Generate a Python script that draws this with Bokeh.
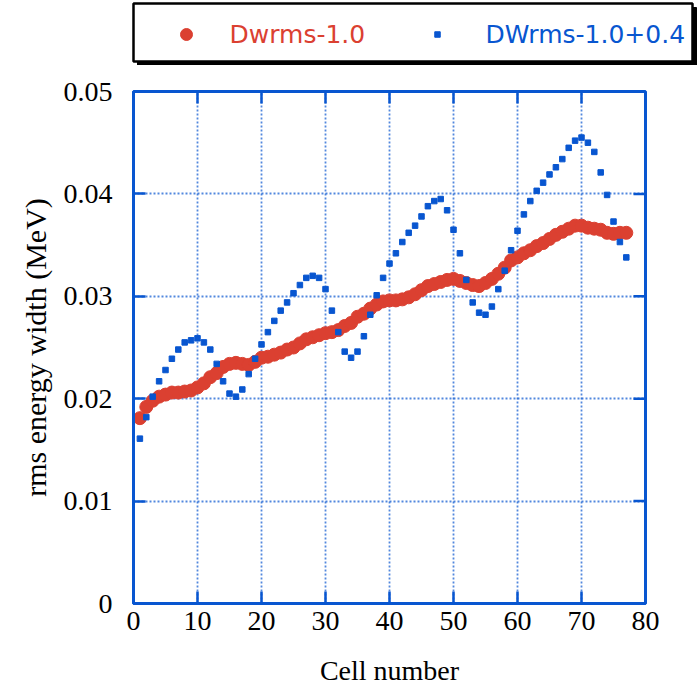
import numpy as np
from bokeh.plotting import figure
from bokeh.models import Range1d, FixedTicker, CustomJSTickFormatter
from bokeh.layouts import column
from bokeh.embed import file_html
from bokeh.resources import INLINE
from bokeh.core.properties import value

# ---------------- data ----------------
cells = list(range(1, 78))

dwrms_10 = [
    0.0181, 0.0192, 0.0198, 0.0202, 0.0204, 0.0206, 0.0206, 0.0207, 0.0208, 0.0211,
    0.0215, 0.0221, 0.0225, 0.0231, 0.0234, 0.0235, 0.0234, 0.0233, 0.0236, 0.0240,
    0.0241, 0.0243, 0.0245, 0.0248, 0.0250, 0.0254, 0.0258, 0.0260, 0.0262, 0.0264,
    0.0265, 0.0267, 0.0271, 0.0274, 0.0280, 0.0283, 0.0288, 0.0292, 0.0295, 0.0296,
    0.0296, 0.0297, 0.0299, 0.0302, 0.0306, 0.0310, 0.0312, 0.0314, 0.0316, 0.0317,
    0.0315, 0.0313, 0.0311, 0.0310, 0.0313, 0.0317, 0.0322, 0.0328, 0.0335, 0.0338,
    0.0342, 0.0345, 0.0349, 0.0352, 0.0356, 0.0360, 0.0363, 0.0366, 0.0369, 0.0369,
    0.0367, 0.0366, 0.0365, 0.0362, 0.0361, 0.0362, 0.0362,
]

dwrms_10_04 = [
    0.0161, 0.0182, 0.0202, 0.0217, 0.0228, 0.0239, 0.0248, 0.0255, 0.0257, 0.0259,
    0.0255, 0.0248, 0.0234, 0.0217, 0.0205, 0.0202, 0.0209, 0.0224, 0.0239, 0.0253,
    0.0265, 0.0276, 0.0286, 0.0294, 0.0303, 0.0311, 0.0318, 0.0320, 0.0318, 0.0307,
    0.0286, 0.0265, 0.0246, 0.0240, 0.0246, 0.0261, 0.0282, 0.0301, 0.0318, 0.0332,
    0.0342, 0.0353, 0.0362, 0.0369, 0.0378, 0.0388, 0.0393, 0.0395, 0.0384, 0.0365,
    0.0342, 0.0316, 0.0294, 0.0284, 0.0282, 0.0290, 0.0307, 0.0325, 0.0345, 0.0364,
    0.0380, 0.0393, 0.0403, 0.0411, 0.0419, 0.0426, 0.0434, 0.0445, 0.0452, 0.0455,
    0.0450, 0.0441, 0.0421, 0.0399, 0.0373, 0.0353, 0.0338,
]

x_ticks = [0, 10, 20, 30, 40, 50, 60, 70, 80]
y_ticks = [0, 0.01, 0.02, 0.03, 0.04, 0.05]
series_labels = ["Dwrms-1.0", "DWrms-1.0+0.4"]
x_title = "Cell number"
y_title = "rms energy width (MeV)"

RED = "#db4031"
BLUE = "#0856d0"
SERIF = "Liberation Serif"
SANS = "DejaVu Sans"

X0, X1, Y0, Y1 = 0, 80, 0, 0.05
BL, BR, BT, BB = 133, 55, 26, 90          # borders of main plot (px)
W, H_MAIN, H_LEG = 700, 628, 65
FW = W - BL - BR                          # frame width  (px)
FH = H_MAIN - BT - BB                     # frame height (px)
TICK = 12                                 # inward tick length (px)

# ---------------- main plot ----------------
p = figure(width=W, height=H_MAIN, x_range=Range1d(X0, X1), y_range=Range1d(Y0, Y1),
           output_backend="svg", toolbar_location=None,
           min_border_left=BL, min_border_right=BR, min_border_top=BT, min_border_bottom=BB)
p.background_fill_color = "white"
p.border_fill_color = "white"
p.outline_line_color = BLUE
p.outline_line_width = 3

p.xaxis.ticker = FixedTicker(ticks=x_ticks)
p.yaxis.ticker = FixedTicker(ticks=y_ticks)
p.yaxis.formatter = CustomJSTickFormatter(code="return tick == 0 ? '0' : tick.toFixed(2);")

for ax in (p.xaxis, p.yaxis):
    ax.axis_line_color = BLUE
    ax.axis_line_width = 3
    ax.major_tick_line_color = BLUE
    ax.major_tick_line_width = 2.5
    ax.major_tick_in = TICK
    ax.major_tick_out = 0
    ax.minor_tick_line_color = None
    ax.major_label_text_font = SERIF
    ax.major_label_text_font_size = "28px"
    ax.major_label_text_color = "black"
    ax.axis_label_text_font = SERIF
    ax.axis_label_text_font_style = "normal"
    ax.axis_label_text_color = "black"

p.xaxis.axis_label = x_title
p.xaxis.axis_label_text_font_size = "28px"
p.xaxis.major_label_standoff = 8
p.xaxis.axis_label_standoff = 22
p.yaxis.axis_label = y_title
p.yaxis.axis_label_text_font_size = "30px"
p.yaxis.major_label_standoff = 21
p.yaxis.axis_label_standoff = 9

p.grid.grid_line_color = BLUE
p.grid.grid_line_dash = "2 2"
p.grid.grid_line_width = 1.8
p.grid.grid_line_alpha = 0.7
p.xgrid.ticker = FixedTicker(ticks=x_ticks)
p.ygrid.ticker = FixedTicker(ticks=y_ticks)

# inward ticks on top and right edges of the frame
dy = TICK * (Y1 - Y0) / FH
dx = TICK * (X1 - X0) / FW
p.segment(x0=x_ticks, y0=[Y1] * len(x_ticks), x1=x_ticks, y1=[Y1 - dy] * len(x_ticks),
          line_color=BLUE, line_width=2.5)
p.segment(x0=[X1] * len(y_ticks), y0=y_ticks, x1=[X1 - dx] * len(y_ticks), y1=y_ticks,
          line_color=BLUE, line_width=2.5)

p.scatter(cells, dwrms_10, marker="circle", size=13, fill_color=RED, line_color=RED)
p.scatter(cells, dwrms_10_04, marker="square", size=5.5, fill_color=BLUE, line_color=BLUE)

# ---------------- legend strip (pixel coordinates: x = page px, y = px from strip bottom) ----------------
lg = figure(width=W, height=H_LEG, x_range=Range1d(BL, W - BR), y_range=Range1d(0, H_LEG),
            output_backend="svg", toolbar_location=None,
            min_border_left=BL, min_border_right=BR, min_border_top=0, min_border_bottom=0,
            x_axis_location=None, y_axis_location=None)
lg.grid.visible = False
lg.outline_line_color = None
lg.background_fill_color = "white"
lg.border_fill_color = "white"

rs = []
rs.append(lg.quad(left=[137], right=[696], top=[58], bottom=[0], fill_color="black", line_color="black"))
rs.append(lg.quad(left=[133], right=[692], top=[62], bottom=[4], fill_color="white",
                  line_color="black", line_width=2.5))
rs.append(lg.scatter([186], [31], marker="circle", size=12, fill_color=RED, line_color=RED))
rs.append(lg.scatter([437], [31], marker="square", size=5.5, fill_color=BLUE, line_color=BLUE))
rs.append(lg.text([229], [31], text=[series_labels[0]], text_font=value(SANS), text_font_size="25px",
                  text_color=RED, text_baseline="middle", text_align="left"))
rs.append(lg.text([485], [31], text=[series_labels[1]], text_font=value(SANS), text_font_size="25px",
                  text_color=BLUE, text_baseline="middle", text_align="left"))
for r in rs:
    r.level = "overlay"

layout = column(lg, p, spacing=0)
open("out.html", "w").write(file_html(layout, INLINE))
